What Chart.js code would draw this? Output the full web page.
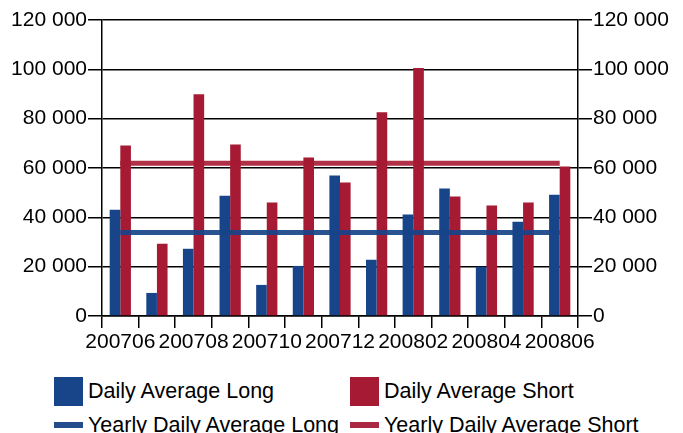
<!DOCTYPE html>
<html>
<head>
<meta charset="utf-8">
<script src="https://cdn.jsdelivr.net/npm/chart.js@4/dist/chart.umd.min.js"></script>
<style>
	body { margin: 0; background: #fff; font-family: "Liberation Sans", Arial, sans-serif; }
	#wrap { position: relative; width: 683px; height: 433px; overflow: hidden; }
	#myChart { position: absolute; left: 0; top: 0; }
	.lg { position: absolute; font-size: 21.5px; color: #000; line-height: 24px; white-space: nowrap; }
	.sw { position: absolute; }
</style>
</head>
<body>
<div id="wrap">
	<canvas id="myChart" width="683" height="360"></canvas>
	<div class="sw" style="left:54px;top:377px;width:29px;height:29px;background:#184489"></div>
	<div class="lg" style="left:88px;top:379px">Daily Average Long</div>
	<div class="sw" style="left:350px;top:377px;width:29px;height:29px;background:#a61a33"></div>
	<div class="lg" style="left:384px;top:379px">Daily Average Short</div>
	<div class="sw" style="left:54px;top:422px;width:29px;height:6px;background:#234c8c"></div>
	<div class="lg" style="left:88px;top:413px">Yearly Daily Average Long</div>
	<div class="sw" style="left:350px;top:422px;width:29px;height:6px;background:#ab2842"></div>
	<div class="lg" style="left:384px;top:413px">Yearly Daily Average Short</div>
</div>
<script>
	// meses (yyyymm)
	var meses = ["200706","200707","200708","200709","200710","200711","200712","200801","200802","200803","200804","200805","200806"];
	var dailyLong  = [43100, 9350, 27250, 48800, 12600, 20300, 56950, 22800, 41100, 51650, 19950, 38250, 49200];
	var dailyShort = [69150, 29300, 89900, 69550, 46000, 64300, 54100, 82600, 100500, 48400, 44750, 46000, 60600];
	var yearlyLong  = [33900, 33900, 33900, 33900, 33900, 33900, 33900, 33900, 33900, 33900, 33900, 33900, 33900];
	var yearlyShort = [61950, 61950, 61950, 61950, 61950, 61950, 61950, 61950, 61950, 61950, 61950, 61950, 61950];
	var yTicks = [0, 20000, 40000, 60000, 80000, 100000, 120000];

	function milhar(v){
		return v.toString().replace(/\B(?=(\d{3})+(?!\d))/g, ' ');
	}

	Chart.defaults.font.family = '"Liberation Sans", Arial, sans-serif';
	Chart.defaults.font.size = 21;
	Chart.defaults.color = '#000';

	var ctx = document.getElementById('myChart');
	var myChart = new Chart(ctx, {
		data: {
			labels: meses,
			datasets: [{
				type: 'line',
				label: 'Yearly Daily Average Long',
				data: yearlyLong,
				borderColor: 'rgba(24,68,137,0.92)',
				borderWidth: 5,
				pointRadius: 0,
				yAxisID: 'y',
				order: 0
			},{
				type: 'line',
				label: 'Yearly Daily Average Short',
				data: yearlyShort,
				borderColor: 'rgba(166,26,51,0.9)',
				borderWidth: 5,
				pointRadius: 0,
				yAxisID: 'y',
				order: 0
			},{
				type: 'bar',
				label: 'Daily Average Long',
				data: dailyLong,
				backgroundColor: '#184489',
				categoryPercentage: 0.58,
				barPercentage: 1,
				yAxisID: 'y',
				order: 1
			},{
				type: 'bar',
				label: 'Daily Average Short',
				data: dailyShort,
				backgroundColor: '#a61a33',
				categoryPercentage: 0.58,
				barPercentage: 1,
				yAxisID: 'y',
				order: 1
			}]
		},
		options: {
			responsive: false,
			animation: false,
			layout: { padding: { top: 20, bottom: 0, left: 0, right: 0 } },
			plugins: {
				legend: { display: false },
				tooltip: { enabled: false }
			},
			scales: {
				x: {
					offset: true,
					grid: { offset: true, drawOnChartArea: false, color: '#000', tickLength: 12, lineWidth: 1.5 },
					border: { color: '#000', width: 1.5 },
					ticks: {
						autoSkip: false,
						maxRotation: 0,
						padding: 2,
						callback: function(v, i){ return i % 2 == 0 ? meses[i] : ''; }
					},
					afterFit: function(s){ s.height = 44; }
				},
				y: {
					position: 'left',
					min: 0, max: 120000,
					afterBuildTicks: function(s){ s.ticks = yTicks.map(function(v){ return {value: v}; }); },
					grid: { color: '#000', lineWidth: 1.5, tickLength: 14 },
					border: { color: '#000', width: 1.5 },
					ticks: { padding: 1, callback: function(v){ return milhar(v); } },
					afterFit: function(s){ s.width = 102; }
				},
				y2: {
					position: 'right',
					min: 0, max: 120000,
					afterBuildTicks: function(s){ s.ticks = yTicks.map(function(v){ return {value: v}; }); },
					grid: { drawOnChartArea: false, color: '#000', lineWidth: 1.5, tickLength: 14 },
					border: { color: '#000', width: 1.5 },
					ticks: { padding: 1, callback: function(v){ return milhar(v); } },
					afterFit: function(s){ s.width = 105; }
				}
			}
		}
	});
</script>
</body>
</html>
